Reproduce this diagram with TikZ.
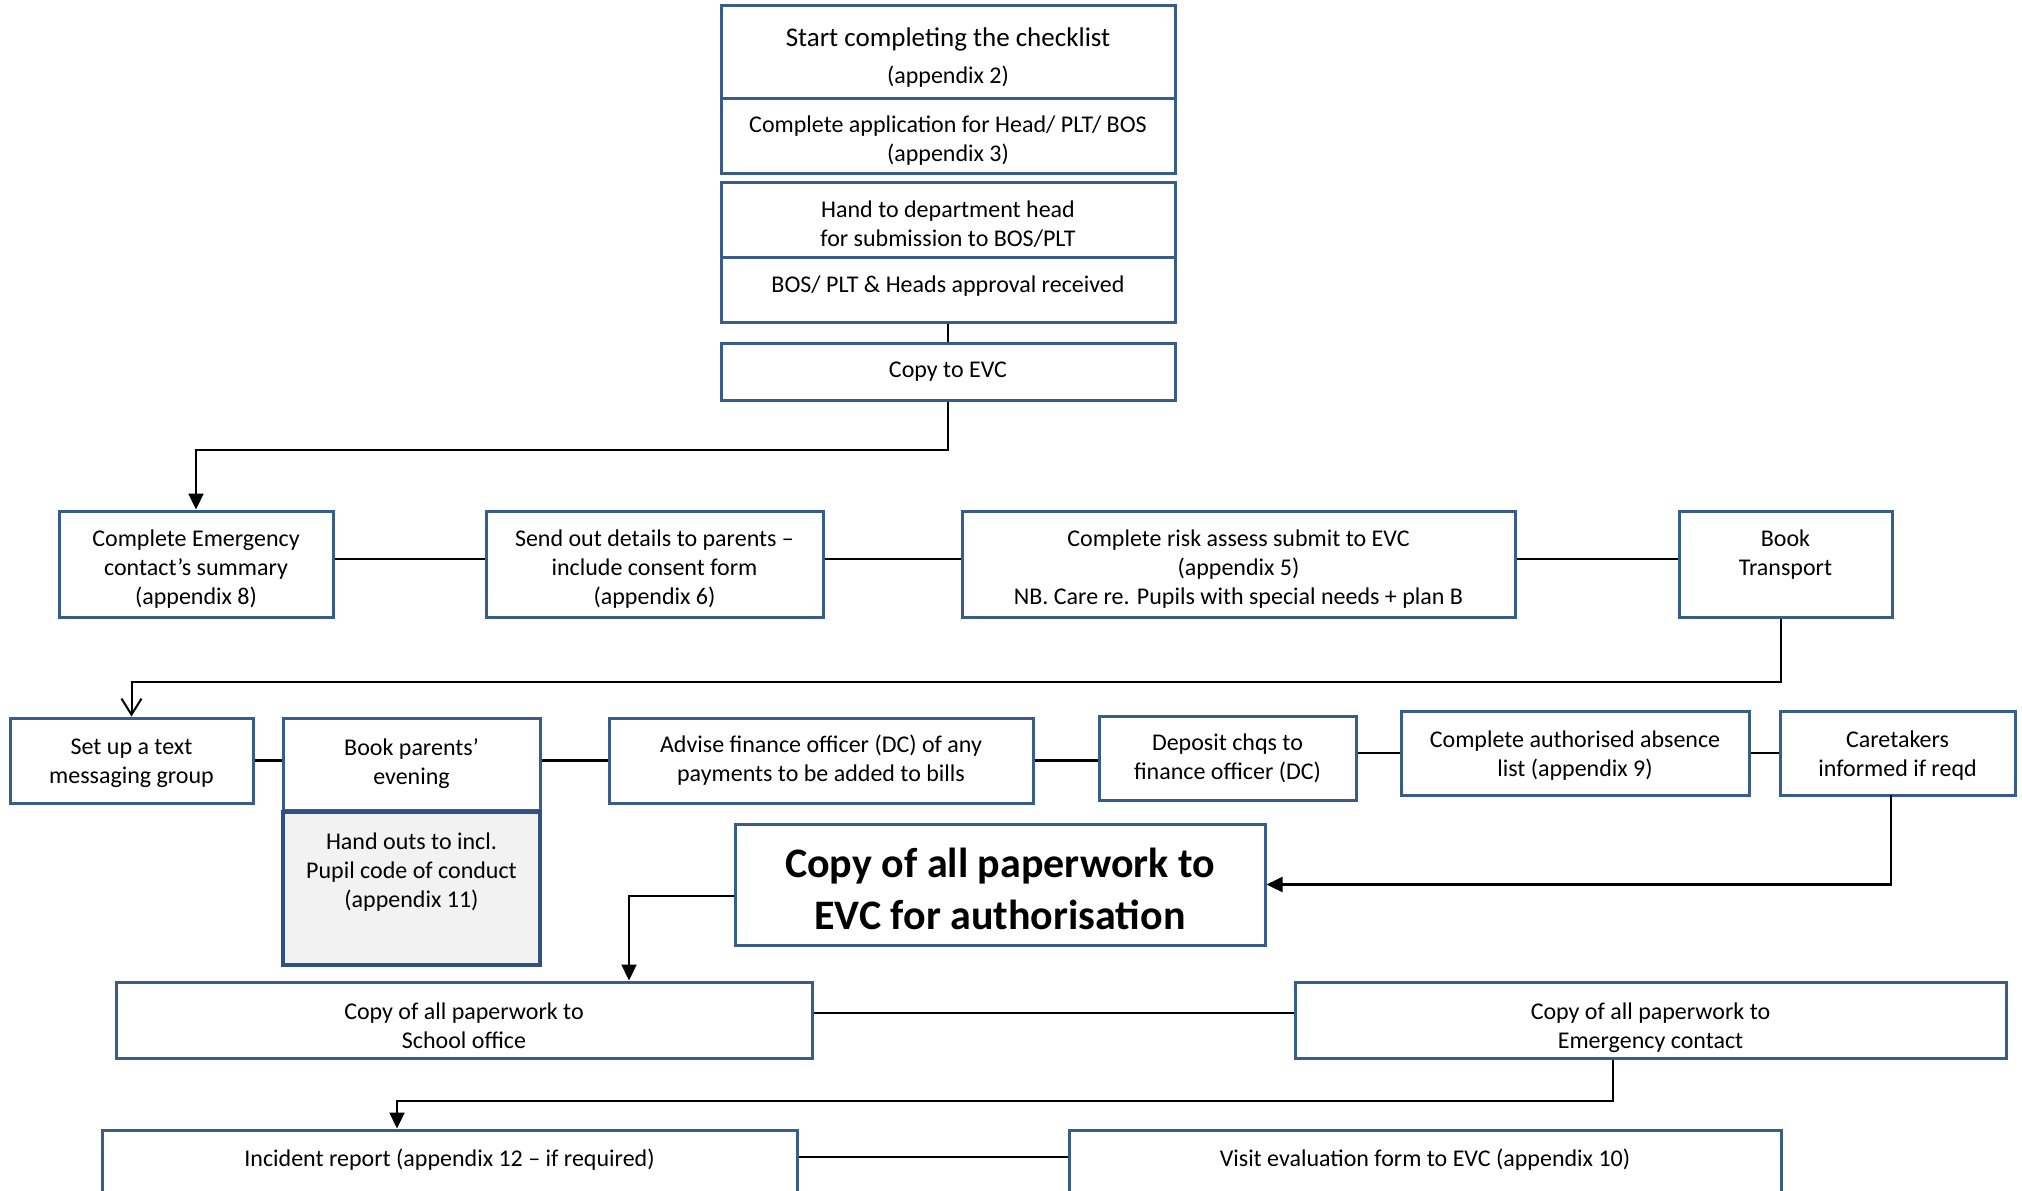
\documentclass[tikz,border=0pt]{standalone}
\usepackage{fontspec}
\setmainfont{Carlito}
\usetikzlibrary{arrows.meta,positioning,calc}
\definecolor{boxblue}{RGB}{56,93,138}
\definecolor{boxnavy}{RGB}{46,80,130}
\tikzset{
  stage/.style={rectangle, draw=boxblue, line width=1.5pt, fill=white, align=center,
    inner sep=0pt, font=\fontsize{12}{14.5}\selectfont},
  link/.style={line width=1.1pt, draw=black},
  flow/.style={-{Triangle[length=8pt,width=7.5pt]}, line width=1.1pt, draw=black},
  openflow/.style={-{Straight Barb[length=8pt,width=10pt]}, line width=1pt, draw=black},
}

\begin{document}
\begin{tikzpicture}[x=0.5pt, y=-0.5pt,
  keystage/.style={stage, fill=black!5, draw=boxnavy, line width=2.3pt},
  bigstage/.style={stage, font=\bfseries\fontsize{21}{26}\selectfont}]
  \useasboundingbox (0,0) rectangle (2022,1190);
  % approval chain
  \node[stage, minimum width=227pt, minimum height=46.5pt, text height=31.5pt, text depth=0pt,
    font=\fontsize{12}{18.5}\selectfont] (chk) at (948,51.5)
    {{\fontsize{13.5}{18.5}\selectfont Start completing the checklist}\\(appendix 2)};
  \node[stage, minimum width=227pt, minimum height=37.5pt, text height=25.7pt, text depth=0pt] (app) at (948,135.5) {Complete application for Head/ PLT/ BOS\\(appendix 3)};
  \node[stage, minimum width=227pt, minimum height=37.5pt, text height=26.5pt, text depth=0pt] (hand) at (948,219.5) {Hand to department head\\for submission to BOS/PLT};
  \node[stage, minimum width=227pt, minimum height=32.5pt, text depth=5pt] (appr) at (948,289.5) {BOS/ PLT \& Heads approval received};
  \node[stage, minimum width=227pt, minimum height=28.5pt] (evc) at (948,371.5) {Copy to EVC};
  \draw[link] (appr.south) -- (evc.north);
  % first row of tasks
  \node[stage, minimum width=137pt, minimum height=53pt, text height=40.2pt, text depth=0pt] (emerg) at (196,564) {Complete Emergency\\contact’s summary\\(appendix 8)};
  \node[stage, minimum width=168.5pt, minimum height=53pt, text height=40.2pt, text depth=0pt] (send) at (654.5,564) {Send out details to parents –\\include consent form\\(appendix 6)};
  \node[stage, minimum width=276.5pt, minimum height=53pt, text height=40.2pt, text depth=0pt] (risk) at (1238.5,564) {Complete risk assess submit to EVC\\(appendix 5)\\NB. Care re. Pupils with special needs + plan B};
  \node[stage, minimum width=106.5pt, minimum height=53pt, text depth=11.5pt] (transp) at (1785.5,564) {Book\\Transport};
  \coordinate (evcturn) at (948,450);
  \draw[flow] (evc.south) -- (evcturn) -| (emerg.north);
  \draw[link] ([yshift=2.5pt]emerg.east) -- ([yshift=2.5pt]emerg.east -| send.west);
  \draw[link] ([yshift=2.5pt]send.east) -- ([yshift=2.5pt]send.east -| risk.west);
  \draw[link] ([yshift=2.5pt]risk.east) -- ([yshift=2.5pt]risk.east -| transp.west);
  % second row of tasks
  \node[stage, minimum width=121.5pt, minimum height=42.5pt, text height=23pt, text depth=0pt] (txt) at (131.5,760.5) {Set up a text\\messaging group};
  \node[stage, minimum width=128.5pt, minimum height=46pt] (eve) at (411.5,764) {Book parents’\\evening};
  \node[keystage, minimum width=128.5pt, minimum height=76.5pt, text depth=18.5pt] (hout) at (411.5,888.5) {Hand outs to incl.\\Pupil code of conduct\\(appendix 11)};
  \node[stage, minimum width=212pt, minimum height=42.5pt] (adv) at (821,760.5) {Advise finance officer (DC) of any\\payments to be added to bills};
  \node[stage, minimum width=128.5pt, minimum height=42pt] (dep) at (1227.5,758) {Deposit chqs to\\finance officer (DC)};
  \node[stage, minimum width=174pt, minimum height=42pt, text height=23pt, text depth=0pt] (abs) at (1575,753) {Complete authorised absence\\list (appendix 9)};
  \node[stage, minimum width=117.5pt, minimum height=42pt, text height=23pt, text depth=0pt] (care) at (1897.5,753) {Caretakers\\informed if reqd};
  \coordinate (transpturn) at (1781,682);
  \draw[openflow] (transp.south -| transpturn) -- (transpturn) -| (txt.north);
  \draw[link] (txt.east) -- (txt.east -| eve.west);
  \draw[link] (txt.east -| eve.east) -- (txt.east -| adv.west);
  \draw[link] (adv.east) -- (adv.east -| dep.west);
  \draw[link] (abs.west -| dep.east) -- (abs.west);
  \draw[link] (abs.east) -- (care.west);
  % authorisation and copies
  \node[bigstage, minimum width=265pt, minimum height=60.5pt, text height=44.7pt, text depth=0pt] (auth) at (1000,884.5) {Copy of all paperwork to\\EVC for authorisation};
  \coordinate (careturn) at (1891,795);
  \draw[flow] (careturn) |- (auth.east);
  \node[stage, minimum width=348pt, minimum height=38pt, text height=28.8pt, text depth=0pt] (school) at (464,1020) {Copy of all paperwork to\\School office};
  \node[stage, minimum width=355.5pt, minimum height=38pt, text height=28.3pt, text depth=0pt] (econ) at (1650.5,1020) {Copy of all paperwork to\\Emergency contact};
  \draw[flow] ([yshift=-5.75pt]auth.west) -| ([xshift=82.5pt]school.north);
  \draw[link] ([yshift=3.5pt]school.east) -- ([yshift=3.5pt]school.east -| econ.west);
  % after the visit
  \node[stage, minimum width=347.5pt, minimum height=33pt, text depth=5.1pt] (inc) at (449.5,1163) {Incident report (appendix 12 – if required)};
  \node[stage, minimum width=356pt, minimum height=33pt, text depth=5.1pt] (visit) at (1425,1163) {Visit evaluation form to EVC (appendix 10)};
  \coordinate (econturn) at (1613,1101);
  \draw[flow] (econ.south -| econturn) -- (econturn) -| ([xshift=-26.25pt]inc.north);
  \draw[link] ([yshift=3pt]inc.east) -- ([yshift=3pt]inc.east -| visit.west);
\end{tikzpicture}
\end{document}
